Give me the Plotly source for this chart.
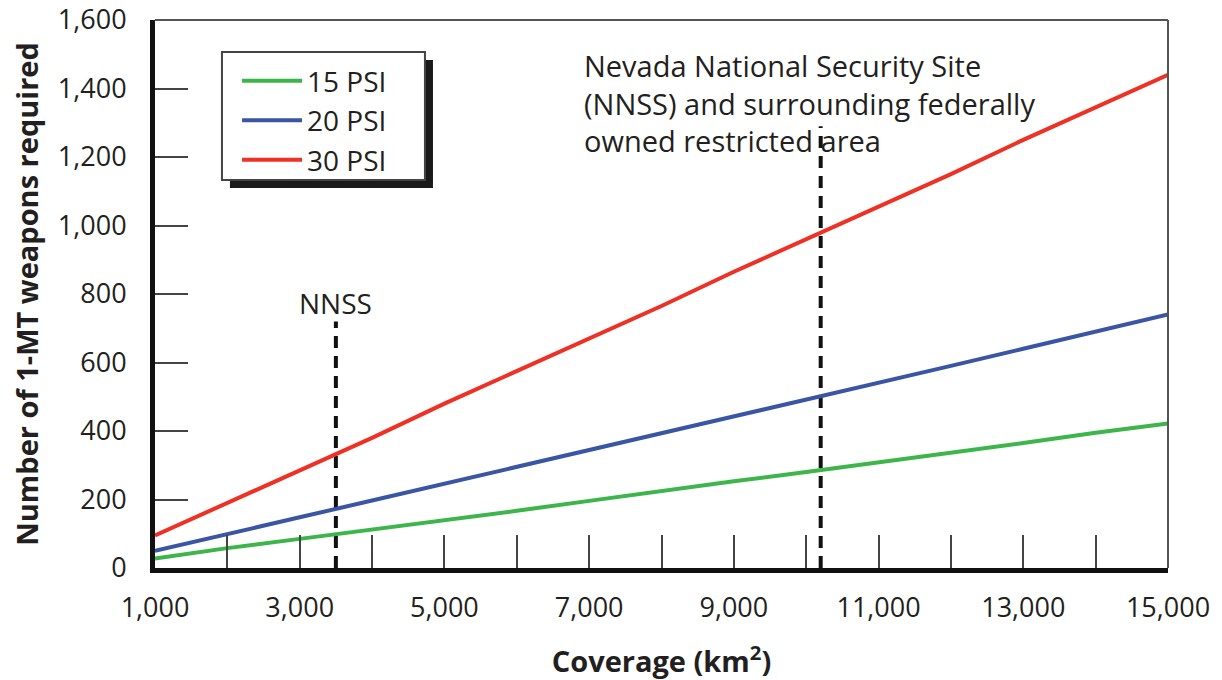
import plotly.graph_objects as go

# Data
coverage = [1000, 2000, 3000, 4000, 5000, 6000, 7000, 8000, 9000, 10000, 11000, 12000, 13000, 14000, 15000]
psi15 = [28, 58, 85, 112, 140, 167, 196, 225, 253, 280, 308, 335, 365, 395, 422]
psi20 = [50, 100, 148, 197, 246, 295, 345, 395, 444, 490, 540, 590, 640, 690, 740]
psi30 = [95, 190, 285, 380, 480, 575, 670, 765, 865, 960, 1055, 1150, 1250, 1345, 1440]

nnss_x = [3500, 3500]
nnss_y = [0, 720]
restricted_x = [10200, 10200]
restricted_y = [0, 1290]

x_ticks = [1000, 3000, 5000, 7000, 9000, 11000, 13000, 15000]
y_ticks = [0, 200, 400, 600, 800, 1000, 1200, 1400, 1600]

FONT = "Open Sans"
TXT = "#231f20"

fig = go.Figure()
fig.add_trace(go.Scatter(x=nnss_x, y=nnss_y, mode="lines", showlegend=False,
                         line=dict(color="#111111", width=4, dash="12px,8px"), hoverinfo="skip"))
fig.add_trace(go.Scatter(x=restricted_x, y=restricted_y, mode="lines", showlegend=False,
                         line=dict(color="#111111", width=4, dash="12px,8px"), hoverinfo="skip"))
fig.add_trace(go.Scatter(x=coverage, y=psi15, mode="lines", name="15 PSI",
                         line=dict(color="#3cb54a", width=4)))
fig.add_trace(go.Scatter(x=coverage, y=psi20, mode="lines", name="20 PSI",
                         line=dict(color="#3a55a4", width=4)))
fig.add_trace(go.Scatter(x=coverage, y=psi30, mode="lines", name="30 PSI",
                         line=dict(color="#ee3124", width=4)))

fig.update_layout(
    width=1222, height=680,
    margin=dict(l=155, r=54, t=20, b=112),
    paper_bgcolor="white", plot_bgcolor="white",
    font=dict(family=FONT, size=27, color=TXT),
    legend=dict(x=0.081, y=0.934, xanchor="left", yanchor="top",
                bgcolor="rgba(0,0,0,0)", borderwidth=0,
                font=dict(family=FONT, size=28, color=TXT),
                itemwidth=60, tracegroupgap=0),
    xaxis=dict(range=[1000, 15000], tickvals=x_ticks, tickformat=",",
               ticks="inside", ticklen=33, tickwidth=2, tickcolor="#444444",
               minor=dict(dtick=1000, tick0=0, ticks="inside", ticklen=33, tickwidth=2, tickcolor="#444444"),
               showline=True, linecolor="#111111", linewidth=5,
               showgrid=False, zeroline=False, ticklabelstandoff=12, automargin=False,
               ticklabeloverflow="allow",
               tickfont=dict(family=FONT, size=27, color=TXT),
               title=dict(text="<b>Coverage (km<sup>2</sup>)</b>", standoff=29,
                          font=dict(family=FONT, size=29, color=TXT))),
    yaxis=dict(range=[0, 1600], tickvals=y_ticks, tickformat=",",
               ticks="inside", ticklen=33, tickwidth=2, tickcolor="#444444",
               showline=True, linecolor="#111111", linewidth=5,
               showgrid=False, zeroline=False, ticklabelstandoff=18, automargin=False,
               ticklabeloverflow="allow",
               tickfont=dict(family=FONT, size=27, color=TXT),
               title=dict(text="<b>Number of 1-MT weapons required</b>", standoff=12,
                          font=dict(family=FONT, size=29, color=TXT))),
    shapes=[
        dict(type="rect", xref="paper", yref="paper", x0=0.0740, x1=0.2744, y0=0.6934, y1=0.927,
             fillcolor="#1a1a1a", line=dict(width=0), layer="above"),
        dict(type="rect", xref="paper", yref="paper", x0=0.0661, x1=0.2665, y0=0.708, y1=0.9416,
             fillcolor="white", line=dict(color="#444444", width=2), layer="above"),
        dict(type="line", xref="paper", yref="paper", x0=0, x1=1, y0=1, y1=1,
             line=dict(color="#555555", width=2)),
        dict(type="line", xref="paper", yref="paper", x0=1, x1=1, y0=0, y1=1,
             line=dict(color="#555555", width=2)),
    ],
    annotations=[
        dict(x=3500, y=774, xref="x", yref="y", text="NNSS", showarrow=False,
             xanchor="center", yanchor="middle", font=dict(family=FONT, size=28, color=TXT)),
        dict(x=6900, y=1358, xref="x", yref="y", align="left",
             text="Nevada National Security Site<br>(NNSS) and surrounding federally<br>owned restricted area",
             showarrow=False, xanchor="left", yanchor="middle",
             font=dict(family=FONT, size=29, color=TXT)),
    ],
)

fig.write_html("out.html", config={"displayModeBar": False},
               post_script="document.body.style.margin='0';")
